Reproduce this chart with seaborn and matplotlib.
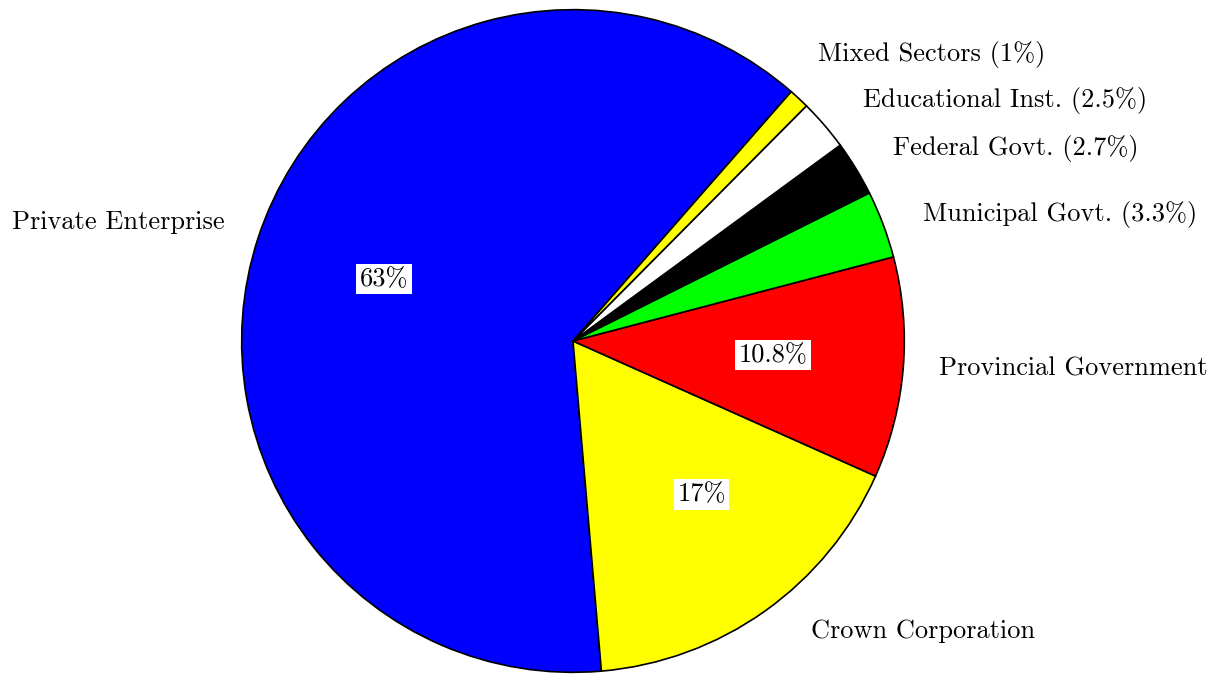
import matplotlib
matplotlib.use("Agg")
import matplotlib.pyplot as plt
import seaborn as sns

# Employment by sector
sectors = ["Private Enterprise", "Crown Corporation", "Provincial Government",
           "Municipal Govt.", "Federal Govt.", "Educational Inst.", "Mixed Sectors"]
shares = [63, 17, 10.8, 3.3, 2.7, 2.5, 1]
share_text = ["63%", "17%", "10.8%", "3.3%", "2.7%", "2.5%", "1%"]
colors = ["#0000ff", "#ffff00", "#ff0000", "#00ff00", "#000000", "#ffffff", "#ffff00"]

sns.set_theme(style="white")
plt.rcParams["font.family"] = ["cmr10", "DejaVu Sans"]
plt.rcParams["axes.unicode_minus"] = False
plt.rcParams["text.color"] = "black"

fig = plt.figure(figsize=(12.2, 6.74), dpi=100)
ax = fig.add_axes([0, 0, 1, 1])

wedges, _ = ax.pie(shares, colors=colors, startangle=48.8, counterclock=True,
                   radius=0.995, center=(0, 0),
                   wedgeprops=dict(edgecolor="black", linewidth=1.2))

ax.set_xlim(-1.7207, 1.943)
ax.set_ylim(-1.0, 1.024)
ax.set_aspect("equal")
ax.axis("off")

fs = 19

# percentage boxes inside the three large slices
inner_pos = {0: (-0.568, 0.186), 1: (0.386, -0.461), 2: (0.601, -0.042)}
for i, (x, y) in inner_pos.items():
    ax.text(x, y, share_text[i], ha="center", va="center", fontsize=fs,
            color="black",
            bbox=dict(facecolor="white", edgecolor="none", pad=2.5))

# sector names outside the pie
outer_pos = {
    0: (-1.366, 0.357),
    1: (1.051, -0.871),
    2: (1.502, -0.084),
    3: (1.462, 0.381),
    4: (1.330, 0.577),
    5: (1.297, 0.721),
    6: (1.078, 0.859),
}
for i, name in enumerate(sectors):
    label = name if i < 3 else f"{name} ({share_text[i]})"
    x, y = outer_pos[i]
    ax.text(x, y, label, ha="center", va="center", fontsize=fs, color="black")

fig.savefig("out.png", dpi=100, facecolor="white")
